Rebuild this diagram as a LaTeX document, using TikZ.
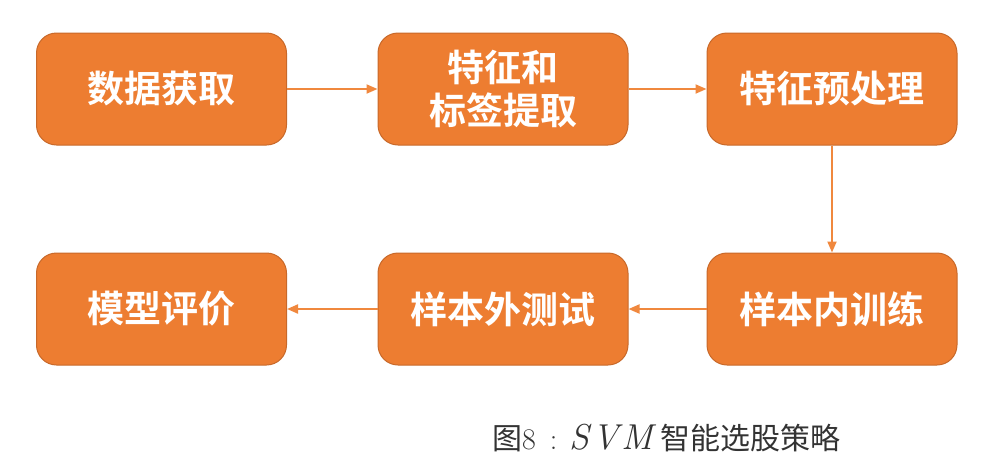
\documentclass[tikz,border=0pt]{standalone}
\usepackage{fontspec}
\usetikzlibrary{arrows.meta}
\newfontfamily\cjkb{Noto Sans CJK SC Bold}
\newfontfamily\cjkr{Noto Sans CJK SC}
\definecolor{boxfill}{HTML}{ED7D31}
\definecolor{boxline}{HTML}{C8692A}
\definecolor{arrowc}{HTML}{F0883E}
\definecolor{captc}{HTML}{333333}
\tikzset{
  stepbox/.style={draw=boxline, line width=1pt, fill=boxfill, rounded corners=20pt,
    minimum width=250pt, minimum height=112pt, inner sep=0pt, align=center,
    text=white, font=\cjkb\fontsize{37}{43}\selectfont},
  flow/.style={draw=arrowc, line width=2pt, -{Triangle[length=11pt,width=9pt]}}
}
\begin{document}
\begin{tikzpicture}[x=1pt,y=-1pt]
\useasboundingbox (0,0) rectangle (986,472);
\node[stepbox] (a) at (161.5,89) {数据获取};
\node[stepbox] (b) at (503,89) {特征和\\标签提取};
\node[stepbox] (c) at (832,89) {特征预处理};
\node[stepbox] (d) at (832,309) {样本内训练};
\node[stepbox] (e) at (503,309) {样本外测试};
\node[stepbox] (f) at (161.5,309) {模型评价};
\draw[flow] (a) -- (b);
\draw[flow] (b) -- (c);
\draw[flow] (c) -- (d);
\draw[flow] (d) -- (e);
\draw[flow] (e) -- (f);
\node[text=captc, inner sep=0pt, anchor=west, font=\fontsize{30}{34}\selectfont] (cap) at (492,438)
  {{\cjkr 图}8\hspace{14pt}:\hspace{12pt}{\fontsize{36}{40}\selectfont\itshape S\kern3pt V\kern3pt M}\hspace{7pt}{\cjkr 智能选股策略}};
\end{tikzpicture}
\end{document}
